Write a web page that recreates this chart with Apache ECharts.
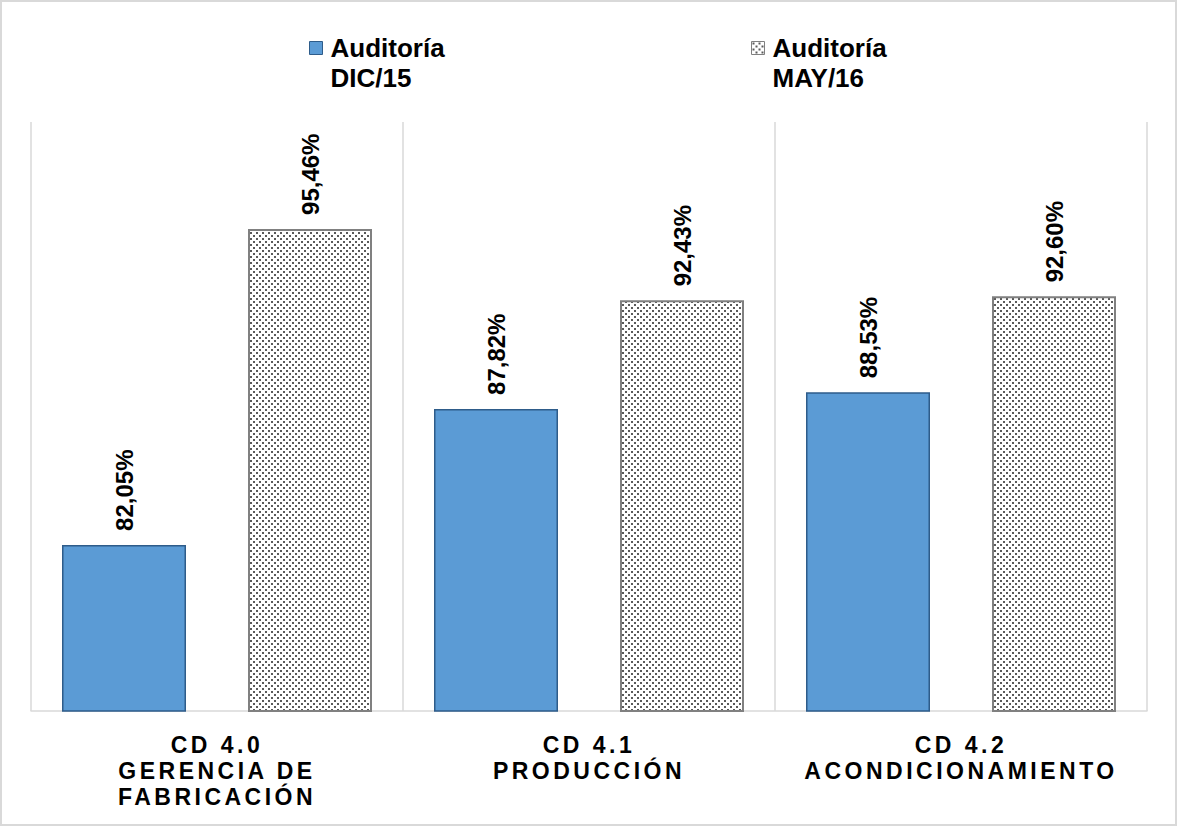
<!DOCTYPE html>
<html>
<head>
<meta charset="utf-8">
<script src="https://cdn.jsdelivr.net/npm/echarts@6/dist/echarts.min.js"></script>
<style>
  html, body { margin: 0; padding: 0; background: #fff; }
  #chart { width: 1178px; height: 827px; }
  /* spaced-out category names under the axis */
  #chart svg text[style*="23px"] { letter-spacing: 3.5px; }
</style>
</head>
<body>
<div id="chart"></div>
<script>
// Audit scores per area
const categories = [
  'CD 4.0\nGERENCIA DE\nFABRICACIÓN',
  'CD 4.1\nPRODUCCIÓN',
  'CD 4.2\nACONDICIONAMIENTO'
];
const seriesNames = ['Auditoría\nDIC/15', 'Auditoría\nMAY/16'];
const auditDic15 = [82.05, 87.82, 88.53];
const auditMay16 = [95.46, 92.43, 92.60];

const FONT = '"Liberation Sans", Arial, sans-serif';

// dotted fill tile for the second series
function dotTile() {
  const c = document.createElement('canvas');
  c.width = 6; c.height = 6;
  const g = c.getContext('2d');
  g.fillStyle = '#ffffff';
  g.fillRect(0, 0, 6, 6);
  g.fillStyle = '#5a5a5a';
  g.fillRect(1, 1, 2, 2);
  g.fillRect(4, 4, 2, 2);
  return c.toDataURL();
}
const dotPattern = { image: dotTile(), repeat: 'repeat' };

const pct = p => p.value.toFixed(2).replace('.', ',') + '%';

const valueLabel = {
  show: true,
  position: 'top',
  rotate: 90,
  align: 'left',
  verticalAlign: 'middle',
  distance: 14,
  formatter: pct,
  color: '#000',
  fontFamily: FONT,
  fontWeight: 'bold',
  fontSize: 24
};

const legendText = {
  color: '#000',
  fontFamily: FONT,
  fontWeight: 'bold',
  fontSize: 26,
  lineHeight: 30,
  padding: [0, 0, 0, 3]
};
// blank leading line keeps the first text line level with the swatch
const legendFormatter = name => ' \n' + name;

const chart = echarts.init(document.getElementById('chart'), null, { renderer: 'svg' });
chart.setOption({
  backgroundColor: '#ffffff',
  animation: false,
  graphic: [{
    type: 'rect',
    shape: { x: 1, y: 1, width: 1175, height: 824 },
    style: { fill: 'none', stroke: '#d9d9d9', lineWidth: 2 },
    silent: true
  }],
  legend: [
    {
      data: [seriesNames[0]], left: 309, top: 3, padding: 0,
      itemWidth: 13, itemHeight: 13, icon: 'rect',
      itemStyle: { borderColor: '#2e5c8a', borderWidth: 1 },
      formatter: legendFormatter,
      textStyle: legendText
    },
    {
      data: [seriesNames[1]], left: 751, top: 3, padding: 0,
      itemWidth: 13, itemHeight: 13, icon: 'rect',
      itemStyle: { borderColor: '#808080', borderWidth: 1 },
      formatter: legendFormatter,
      textStyle: legendText
    }
  ],
  grid: { left: 31, right: 31, top: 122, bottom: 116, containLabel: false },
  xAxis: {
    type: 'category',
    data: categories,
    axisLine: { show: true, lineStyle: { color: '#d9d9d9', width: 1.5 } },
    axisTick: { show: false },
    splitLine: { show: true, lineStyle: { color: '#d9d9d9', width: 1.5 } },
    axisLabel: {
      interval: 0,
      margin: 21,
      color: '#000',
      fontFamily: FONT,
      fontWeight: 'bold',
      fontSize: 23,
      lineHeight: 26,
      align: 'center'
    }
  },
  yAxis: {
    type: 'value',
    min: 75,
    max: 100,
    show: false,
    splitLine: { show: false }
  },
  series: [
    {
      name: seriesNames[0],
      type: 'bar',
      data: auditDic15,
      barWidth: 124,
      barGap: '50%',
      itemStyle: { color: '#5b9bd5', borderColor: '#2e5c8a', borderWidth: 1.5 },
      label: valueLabel
    },
    {
      name: seriesNames[1],
      type: 'bar',
      data: auditMay16,
      barWidth: 124,
      barGap: '50%',
      itemStyle: { color: dotPattern, borderColor: '#808080', borderWidth: 2 },
      label: valueLabel
    }
  ]
});
</script>
</body>
</html>
